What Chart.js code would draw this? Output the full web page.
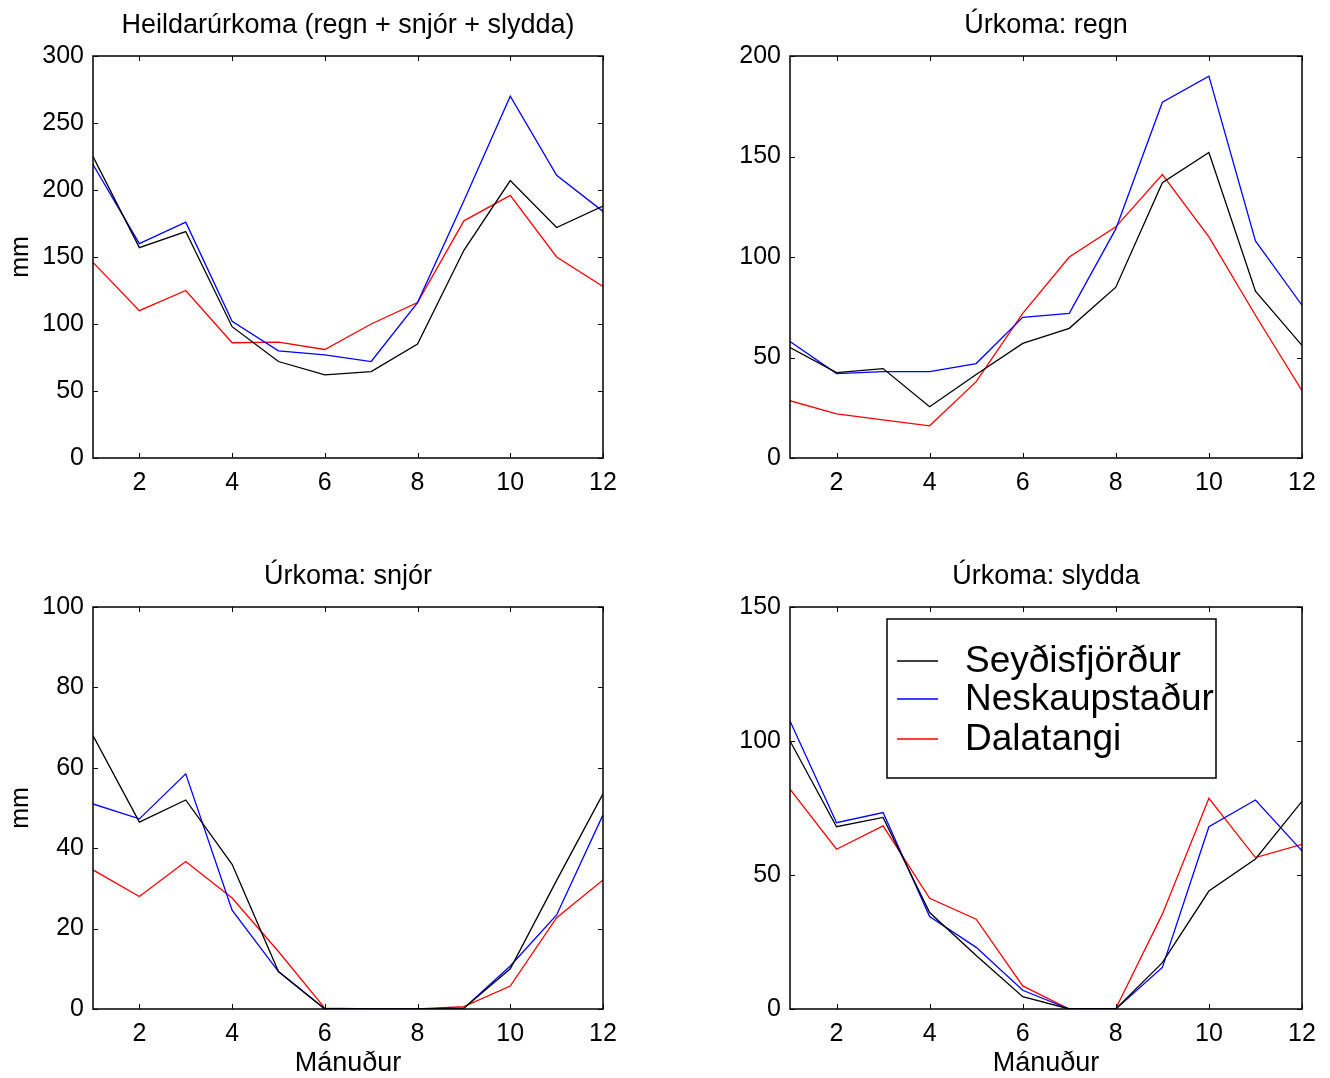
<!DOCTYPE html>
<html>
<head>
<meta charset="utf-8">
<script src="https://cdn.jsdelivr.net/npm/chart.js@4.4.1/dist/chart.umd.min.js"></script>
<style>
  html, body { margin: 0; padding: 0; background: #fff; overflow: hidden; }
  body { width: 1330px; height: 1078px; position: relative; }
  canvas { position: absolute; }
</style>
</head>
<body>
<canvas id="c1" width="630" height="529" style="left:0px;top:0px"></canvas>
<canvas id="c2" width="630" height="529" style="left:697px;top:0px"></canvas>
<canvas id="c3" width="630" height="529" style="left:0px;top:551px"></canvas>
<canvas id="c4" width="630" height="529" style="left:697px;top:551px"></canvas>
<script>
const months = [1, 2, 3, 4, 5, 6, 7, 8, 9, 10, 11, 12];
const stations = ['Seyðisfjörður', 'Neskaupstaður', 'Dalatangi'];
const colors = ['#000000', '#0000ff', '#ff0000'];

// Heildarúrkoma (regn + snjór + slydda)
const totalSey = [225, 157, 169, 98, 72, 62, 64.5, 85, 155, 207, 172, 188];
const totalNes = [219, 160, 176, 102, 80, 77, 72, 116, 192, 270, 211, 184];
const totalDal = [146, 110, 125, 86, 86.5, 81, 100, 116, 177, 196, 150, 128];

// regn
const rainSey = [55, 42.5, 44.5, 25.5, 41.5, 57, 64.5, 85, 137, 152, 83, 56];
const rainNes = [58, 42, 43, 43, 47, 70, 72, 114, 177, 190, 108, 76];
const rainDal = [28.5, 22, 19, 16, 38, 72, 100, 115, 141, 110, 71, 33.5];

// snjór
const snowSey = [68, 46.5, 52, 36, 9.3, 0, 0, 0, 0.2, 10, 32, 53.5];
const snowNes = [51, 47.3, 58.5, 24.6, 9.3, 0, 0, 0, 0.2, 10.7, 23.4, 48.3];
const snowDal = [34.6, 28, 36.7, 27.6, 14.3, 0.2, 0, 0, 0.6, 5.7, 22.7, 32.1];

// slydda
const sleetSey = [100, 68, 71.5, 36, 20, 4.6, 0, 0, 17.3, 44, 56, 77.5];
const sleetNes = [107.5, 69.5, 73.3, 34.5, 23, 7, 0, 0, 15.5, 68, 78, 59];
const sleetDal = [82, 59.6, 68.3, 41.3, 33.5, 8.6, 0, 0.2, 35.4, 78.6, 56.5, 61.4];

const FONT = "'Liberation Sans', Arial, Helvetica, sans-serif";
Chart.defaults.font.family = FONT;
Chart.defaults.color = '#000';

// box round the axes with ticks pointing inwards, matlab style
const frame = {
  id: 'frame',
  afterDatasetsDraw(chart) {
    const { ctx, chartArea: a, scales: { x, y } } = chart;
    ctx.save();
    ctx.strokeStyle = '#000';
    ctx.lineWidth = 1;
    ctx.beginPath();
    x.ticks.forEach(t => {
      const px = Math.round(x.getPixelForValue(t.value)) + 0.5;
      ctx.moveTo(px, a.bottom); ctx.lineTo(px, a.bottom - 5);
      ctx.moveTo(px, a.top); ctx.lineTo(px, a.top + 5);
    });
    y.ticks.forEach(t => {
      const py = Math.round(y.getPixelForValue(t.value)) + 0.5;
      ctx.moveTo(a.left, py); ctx.lineTo(a.left + 5, py);
      ctx.moveTo(a.right, py); ctx.lineTo(a.right - 5, py);
    });
    ctx.stroke();
    ctx.lineWidth = 1.5;
    ctx.strokeRect(a.left, a.top, a.right - a.left, a.bottom - a.top);
    ctx.restore();
  }
};

// legend box inside the last panel
const boxLegend = {
  id: 'boxLegend',
  afterDraw(chart) {
    const { ctx, chartArea: a } = chart;
    const left = a.left + 97, top = a.top + 12;
    ctx.save();
    ctx.fillStyle = '#fff';
    ctx.fillRect(left, top, 329, 159);
    ctx.strokeStyle = '#000';
    ctx.lineWidth = 1.5;
    ctx.strokeRect(left, top, 329, 159);
    ctx.font = '37px ' + FONT;
    ctx.textBaseline = 'middle';
    const rows = [42, 80, 120];
    chart.data.datasets.forEach((ds, i) => {
      ctx.strokeStyle = ds.borderColor;
      ctx.lineWidth = 1.3;
      ctx.beginPath();
      ctx.moveTo(left + 10, top + rows[i]);
      ctx.lineTo(left + 51, top + rows[i]);
      ctx.stroke();
      ctx.fillStyle = '#000';
      ctx.fillText(ds.label, left + 78, top + rows[i] + 1);
    });
    ctx.restore();
  }
};

function makeChart(id, title, series, yMax, yStep, opts) {
  const datasets = series.map((vals, i) => ({
    label: stations[i],
    data: months.map((m, j) => ({ x: m, y: vals[j] })),
    borderColor: colors[i],
    backgroundColor: colors[i],
    borderWidth: 1.3,
    pointRadius: 0,
    tension: 0,
    fill: false
  }));
  const plugins = [frame];
  if (opts.legend) plugins.push(boxLegend);
  new Chart(document.getElementById(id), {
    type: 'line',
    data: { datasets },
    plugins,
    options: {
      responsive: false,
      animation: false,
      layout: { padding: { left: 0, top: 0, right: opts.right, bottom: 0 } },
      plugins: {
        legend: { display: false },
        tooltip: { enabled: false },
        title: {
          display: true,
          text: title,
          fullSize: false,
          color: '#000',
          font: { size: 27, weight: 'normal', family: FONT },
          padding: { top: 9.3, bottom: 14.3 }
        }
      },
      scales: {
        x: {
          type: 'linear',
          min: 1,
          max: 12,
          grid: { display: false, drawTicks: false },
          border: { display: false },
          ticks: { stepSize: 2, includeBounds: false, padding: 10, maxRotation: 0, font: { size: 25 }, color: '#000' },
          title: { display: opts.xTitle, text: 'Mánuður', color: '#000', font: { size: 27 }, padding: { top: 0, bottom: 0 } },
          afterFit(s) { s.height = 71; }
        },
        y: {
          min: 0,
          max: yMax,
          grid: { display: false, drawTicks: false },
          border: { display: false },
          ticks: { stepSize: yStep, padding: 9, font: { size: 25 }, color: '#000' },
          title: { display: opts.yTitle, text: 'mm', color: '#000', font: { size: 25 }, padding: { top: 6, bottom: 0 } },
          afterFit(s) { s.width = 93; }
        }
      }
    }
  });
}

makeChart('c1', 'Heildarúrkoma (regn + snjór + slydda)', [totalSey, totalNes, totalDal], 300, 50,
  { right: 27, xTitle: false, yTitle: true });
makeChart('c2', 'Úrkoma: regn', [rainSey, rainNes, rainDal], 200, 50,
  { right: 25, xTitle: false, yTitle: false });
makeChart('c3', 'Úrkoma: snjór', [snowSey, snowNes, snowDal], 100, 20,
  { right: 27, xTitle: true, yTitle: true });
makeChart('c4', 'Úrkoma: slydda', [sleetSey, sleetNes, sleetDal], 150, 50,
  { right: 25, xTitle: true, yTitle: false, legend: true });
</script>
</body>
</html>
